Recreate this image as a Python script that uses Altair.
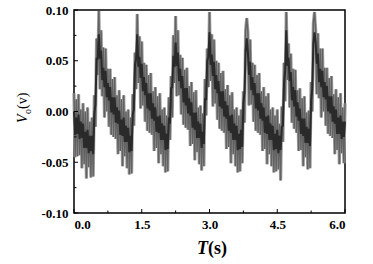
import altair as alt
import pandas as pd

T_STEP = 0.025  # sampling step of the recorded signal (s)

# light (full noise band) trace
V_LIGHT = [
    0.018, -0.045, 0.012, -0.044, 0.017, -0.043, 0.002, -0.056, 0.008, -0.052,
    0.000, -0.066, 0.004, -0.055, -0.010, -0.065, -0.006, -0.064, 0.016, -0.015,
    0.072, 0.036, 0.099, 0.022, 0.080, 0.015, 0.063, -0.006, 0.062, 0.000,
    0.042, -0.015, 0.042, -0.023, 0.032, -0.025, 0.034, -0.027, 0.016, -0.042,
    0.021, -0.039, 0.012, -0.054, 0.016, -0.044, 0.000, -0.056, 0.002, -0.062,
    -0.006, -0.061, 0.017, -0.014, 0.058, 0.022, 0.096, 0.028, 0.074, 0.003,
    0.069, 0.006, 0.048, -0.010, 0.046, -0.019, 0.036, -0.021, 0.038, -0.023,
    0.020, -0.039, 0.024, -0.036, 0.015, -0.051, 0.018, -0.042, 0.002, -0.054,
    0.004, -0.060, -0.004, -0.059, 0.014, -0.028, 0.035, -0.006, 0.075, 0.028,
    0.094, 0.015, 0.080, 0.016, 0.056, -0.003, 0.053, -0.013, 0.041, -0.016,
    0.043, -0.018, 0.025, -0.034, 0.029, -0.032, 0.019, -0.048, 0.021, -0.040,
    0.004, -0.052, 0.006, -0.058, -0.002, -0.054, 0.032, -0.004, 0.062, 0.024,
    0.098, 0.030, 0.076, 0.005, 0.071, 0.008, 0.050, -0.008, 0.048, -0.017,
    0.038, -0.019, 0.040, -0.021, 0.022, -0.037, 0.026, -0.035, 0.016, -0.051,
    0.019, -0.042, 0.002, -0.054, 0.004, -0.060, -0.004, -0.059, 0.002, -0.051,
    0.020, -0.011, 0.080, 0.092, 0.078, 0.006, 0.071, 0.007, 0.048, -0.010,
    0.046, -0.019, 0.036, -0.021, 0.038, -0.023, 0.020, -0.039, 0.024, -0.037,
    0.015, -0.052, 0.018, -0.042, 0.002, -0.054, 0.004, -0.060, -0.004, -0.059,
    0.002, -0.057, -0.012, -0.068, 0.005, -0.030, 0.048, 0.010, 0.098, 0.031,
    0.067, 0.004, 0.057, -0.011, 0.042, -0.017, 0.041, -0.021, 0.021, -0.039,
    0.023, -0.038, 0.013, -0.054, 0.015, -0.045, -0.001, -0.057, 0.001, -0.056,
    0.029, 0.000, 0.087, 0.098, 0.080, 0.017, 0.077, 0.013, 0.062, -0.006,
    0.062, 0.000, 0.043, -0.014, 0.043, -0.022, 0.033, -0.024, 0.035, -0.026,
    0.017, -0.042, 0.022, -0.038, 0.014, -0.052, 0.018, -0.041, 0.004, -0.051,
    0.008,
]

# dark (dense core) trace
V_DARK = [
    0.000, -0.023, -0.006, -0.022, -0.003, -0.027, -0.010, -0.026, -0.012, -0.036,
    -0.020, -0.036, -0.018, -0.041, -0.024, -0.039, -0.024, -0.042, -0.002, 0.007,
    0.052, 0.052, 0.076, 0.052, 0.060, 0.031, 0.043, 0.024, 0.040, 0.014,
    0.028, 0.011, 0.024, -0.001, 0.014, -0.003, 0.014, -0.011, 0.004, -0.012,
    0.001, -0.023, -0.008, -0.024, -0.006, -0.030, -0.014, -0.030, -0.016, -0.040,
    -0.024, -0.039, -0.003, 0.002, 0.046, 0.052, 0.076, 0.044, 0.054, 0.033,
    0.047, 0.020, 0.034, 0.016, 0.028, 0.003, 0.018, 0.001, 0.018, -0.007,
    0.008, -0.009, 0.004, -0.020, -0.005, -0.021, -0.004, -0.028, -0.012, -0.028,
    -0.014, -0.038, -0.022, -0.037, -0.006, -0.012, 0.023, 0.024, 0.055, 0.044,
    0.068, 0.045, 0.058, 0.030, 0.042, 0.023, 0.035, 0.009, 0.023, 0.006,
    0.023, -0.002, 0.013, -0.004, 0.009, -0.016, -0.001, -0.018, -0.001, -0.026,
    -0.010, -0.026, -0.012, -0.036, -0.020, -0.032, 0.012, 0.012, 0.050, 0.054,
    0.078, 0.046, 0.056, 0.035, 0.049, 0.022, 0.036, 0.018, 0.030, 0.005,
    0.020, 0.003, 0.020, -0.005, 0.010, -0.007, 0.006, -0.019, -0.004, -0.021,
    -0.003, -0.028, -0.012, -0.028, -0.014, -0.038, -0.022, -0.037, -0.018, -0.035,
    0.008, 0.019, 0.060, 0.072, 0.058, 0.036, 0.049, 0.021, 0.034, 0.016,
    0.028, 0.003, 0.018, 0.001, 0.018, -0.007, 0.008, -0.009, 0.004, -0.021,
    -0.005, -0.022, -0.004, -0.028, -0.012, -0.028, -0.014, -0.038, -0.022, -0.037,
    -0.018, -0.041, -0.024, -0.038, -0.015, -0.014, 0.028, 0.040, 0.080, 0.045,
    0.053, 0.030, 0.039, 0.011, 0.024, 0.005, 0.021, -0.005, 0.009, -0.009,
    0.003, -0.022, -0.007, -0.024, -0.007, -0.031, -0.015, -0.031, -0.017, -0.034,
    0.011, 0.022, 0.067, 0.078, 0.068, 0.047, 0.057, 0.029, 0.042, 0.024,
    0.040, 0.014, 0.029, 0.012, 0.025, 0.000, 0.015, -0.002, 0.015, -0.010,
    0.005, -0.012, 0.002, -0.022, -0.006, -0.022, -0.004, -0.027, -0.010, -0.025,
    -0.010,
]

X_TICKS = [0.0, 1.5, 3.0, 4.5, 6.0]
X_MINOR = [0.75, 2.25, 3.75, 5.25]
Y_TICKS = [-0.10, -0.05, 0.00, 0.05, 0.10]
Y_MINOR = [-0.075, -0.025, 0.025, 0.075]

W, H = 271, 203
FONT = "Liberation Serif"

rows = []
for i, v in enumerate(V_LIGHT):
    rows.append({"T": round(i * T_STEP, 3), "V": v, "s": "light"})
for i, v in enumerate(V_DARK):
    rows.append({"T": round(i * T_STEP, 3), "V": v, "s": "dark"})
df = pd.DataFrame(rows)

xs = alt.Scale(domain=[0, 6], nice=False, zero=False)
ys = alt.Scale(domain=[-0.1, 0.1], nice=False, zero=False)

lab = dict(labelFont=FONT, labelFontWeight="bold", labelFontSize=13,
           labelColor="black", ticks=False, domain=False, grid=False, title=None)
X_AXIS = alt.Axis(values=X_TICKS, format=".1f", labelPadding=5, **lab)
Y_AXIS = alt.Axis(values=Y_TICKS, labelPadding=6,
                  labelExpr="replace(format(datum.value, '.2f'), '\u2212', '-')", **lab)


def trace(series, color, width):
    return alt.Chart(df).transform_filter(alt.datum.s == series).mark_line(
        color=color, strokeWidth=width, strokeJoin="miter"
    ).encode(
        x=alt.X("T:Q", scale=xs, axis=X_AXIS),
        y=alt.Y("V:Q", scale=ys, axis=Y_AXIS),
        order="T:Q",
    )


halo = trace("light", "#9c9c9c", 3.2)
light = trace("light", "#626262", 1.4)
dark = trace("dark", "#2a2a2a", 2.0)


def yticks(vals, ln):
    return alt.Chart(pd.DataFrame({"V": vals})).mark_rule(color="black", strokeWidth=1).encode(
        y=alt.Y("V:Q", scale=ys, axis=Y_AXIS), x=alt.value(0), x2=alt.value(ln))


def xticks(vals, ln):
    return alt.Chart(pd.DataFrame({"T": vals})).mark_rule(color="black", strokeWidth=1).encode(
        x=alt.X("T:Q", scale=xs, axis=X_AXIS), y=alt.value(H), y2=alt.value(H - ln))


one = pd.DataFrame({"a": [0]})
t_title = alt.Chart(one).mark_text(text="T", font=FONT, fontSize=18, fontWeight="bold",
                                   fontStyle="italic", align="right", baseline="alphabetic",
                                   color="black").encode(x=alt.value(134), y=alt.value(244))
s_title = alt.Chart(one).mark_text(text="(s)", font=FONT, fontSize=18, fontWeight="bold",
                                   align="left", baseline="alphabetic",
                                   color="black").encode(x=alt.value(134), y=alt.value(244))
v_title = alt.Chart(one).mark_text(text="V", font=FONT, fontSize=14, fontStyle="italic",
                                   angle=270, align="left", baseline="alphabetic",
                                   color="black").encode(x=alt.value(-47), y=alt.value(113))
o_title = alt.Chart(one).mark_text(text="o", font=FONT, fontSize=10,
                                   angle=270, align="left", baseline="alphabetic",
                                   color="black").encode(x=alt.value(-43), y=alt.value(104))
p_title = alt.Chart(one).mark_text(text="(v)", font=FONT, fontSize=14,
                                   angle=270, align="left", baseline="alphabetic",
                                   color="black").encode(x=alt.value(-47), y=alt.value(99))

chart = alt.layer(
    halo, light, dark,
    yticks(Y_TICKS, 4), yticks(Y_MINOR, 2.5),
    xticks(X_TICKS, 4), xticks(X_MINOR, 2.5),
    t_title, s_title, v_title, o_title, p_title,
).properties(
    width=W, height=H,
    autosize=alt.AutoSizeParams(type="none"),
    padding={"left": 74, "top": 10, "right": 28, "bottom": 51},
    background="white",
).configure_view(stroke="black", strokeWidth=1.5).configure_axis(
    labelFont=FONT, labelFontWeight="bold", labelFontSize=13, labelColor="black"
)

chart.save("out.html", embed_options={"renderer": "svg", "actions": False})
